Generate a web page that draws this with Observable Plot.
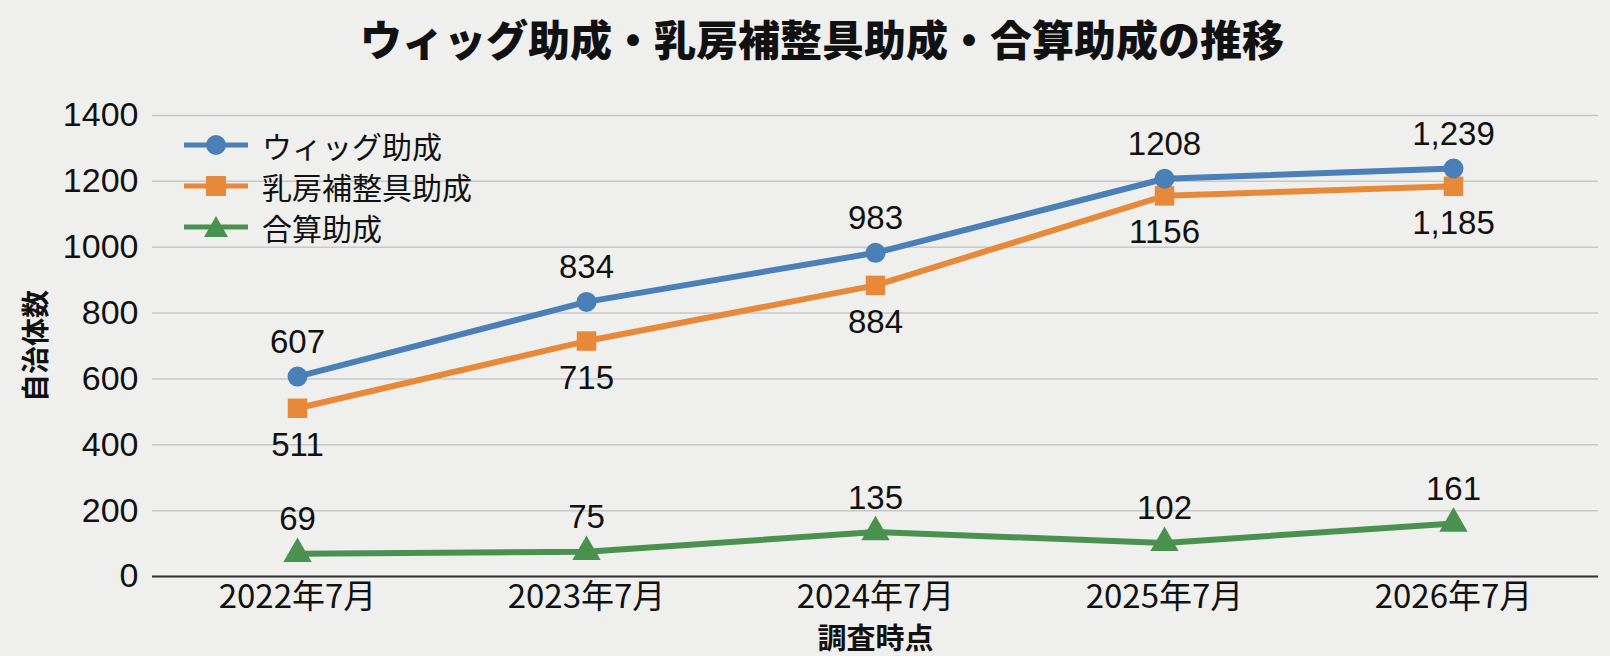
<!DOCTYPE html>
<html><head><meta charset="utf-8">
<script src="https://cdn.jsdelivr.net/npm/d3@7"></script>
<script src="https://cdn.jsdelivr.net/npm/@observablehq/plot@0.6"></script>
<style>
body{margin:0;background:#efefed;font-family:"Liberation Sans","Noto Sans CJK JP",sans-serif;}
#wrap{position:relative;width:1610px;height:656px;}
#title{height:80px;line-height:76px;text-align:center;padding-left:34px;font-family:"Noto Sans CJK JP";font-weight:900;font-size:42px;color:#111;}
#legend{position:absolute;left:184px;top:124px;font-family:"Noto Sans CJK JP";font-size:30px;color:#111;}
#legend .row{display:flex;align-items:center;height:41px;}
#legend svg{margin-right:14px;}
</style></head>
<body><div id="wrap"><div id="title">ウィッグ助成・乳房補整具助成・合算助成の推移</div><div id="chart"></div><div id="legend"></div></div>
<script>
const categories = ["2022年7月","2023年7月","2024年7月","2025年7月","2026年7月"];
const seriesNames = ["ウィッグ助成","乳房補整具助成","合算助成"];
const wig = [607, 834, 983, 1208, 1239];
const breast = [511, 715, 884, 1156, 1185];
const combined = [69, 75, 135, 102, 161];
const wigLabels = ["607","834","983","1208","1,239"];
const breastLabels = ["511","715","884","1156","1,185"];
const combinedLabels = ["69","75","135","102","161"];
const yTicks = [0,200,400,600,800,1000,1200,1400];
const colors = ["#4a7fb8","#e8893a","#4a9150"];
const symbols = ["circle","square","triangle"];
const radii = [10, 11, 10.5];

const rows = [];
[[wig,wigLabels],[breast,breastLabels],[combined,combinedLabels]].forEach(([vals,labs],s)=>{
  vals.forEach((v,i)=>rows.push({series:seriesNames[s],cat:categories[i],value:v,label:labs[i],above:s!==1,r:radii[s]}));
});

const font = '"Liberation Sans","Noto Sans CJK JP",sans-serif';
const chart = Plot.plot({
  width:1610, height:576,
  marginTop:35, marginBottom:80, marginLeft:152, marginRight:12,
  style:{background:"transparent", fontFamily:font, color:"#111"},
  x:{type:"point", domain:categories, padding:0.5},
  y:{domain:[0,1400]},
  r:{type:"identity"},
  color:{domain:seriesNames, range:colors},
  symbol:{domain:seriesNames, range:symbols},
  marks:[
    Plot.gridY(yTicks,{stroke:"#c8c8c8", strokeOpacity:1, strokeWidth:1.5}),
    Plot.ruleY([0],{stroke:"#333", strokeWidth:2}),
    Plot.axisY(yTicks,{tickSize:0, tickPadding:14, fontSize:34, tickFormat:"d", label:"自治体数", labelAnchor:"center", labelArrow:"none", labelOffset:126}),
    Plot.axisX({tickSize:0, tickPadding:8, fontSize:33, fontFamily:'"Liberation Sans Narrow","Noto Sans CJK JP",sans-serif', label:null}),
    Plot.text([categories[2]],{x:d=>d, frameAnchor:"bottom", lineAnchor:"middle", dy:63, text:()=>"調査時点", fontSize:29, fontWeight:"bold", fontFamily:"Noto Sans CJK JP"}),
    Plot.line(rows,{x:"cat", y:"value", z:"series", stroke:"series", strokeWidth:6}),
    Plot.dot(rows,{x:"cat", y:"value", fill:"series", symbol:"series", r:"r", stroke:"none"}),
    Plot.text(rows.filter(d=>d.above),{x:"cat", y:"value", text:"label", dy:-34, fontSize:33, fill:"#111"}),
    Plot.text(rows.filter(d=>!d.above),{x:"cat", y:"value", text:"label", dy:37, fontSize:33, fill:"#111"})
  ]
});
document.getElementById("chart").appendChild(chart);
chart.querySelectorAll("text").forEach(t=>{ if(t.textContent==="自治体数"){ t.setAttribute("font-weight","bold"); t.setAttribute("font-size","28"); t.setAttribute("font-family","Noto Sans CJK JP"); }});

const leg = document.getElementById("legend");
seriesNames.forEach((n,i)=>{
  const row = document.createElement("div"); row.className="row";
  let shape;
  if(i===0) shape = `<circle cx="32" cy="11" r="10" fill="${colors[i]}"/>`;
  else if(i===1) shape = `<rect x="22" y="1" width="20" height="20" fill="${colors[i]}"/>`;
  else shape = `<path d="M32 0 L44 21 L20 21 Z" fill="${colors[i]}"/>`;
  row.innerHTML = `<svg width="64" height="22"><line x1="0" x2="64" y1="11" y2="11" stroke="${colors[i]}" stroke-width="5"/>${shape}</svg><span>${n}</span>`;
  leg.appendChild(row);
});
</script></body></html>
